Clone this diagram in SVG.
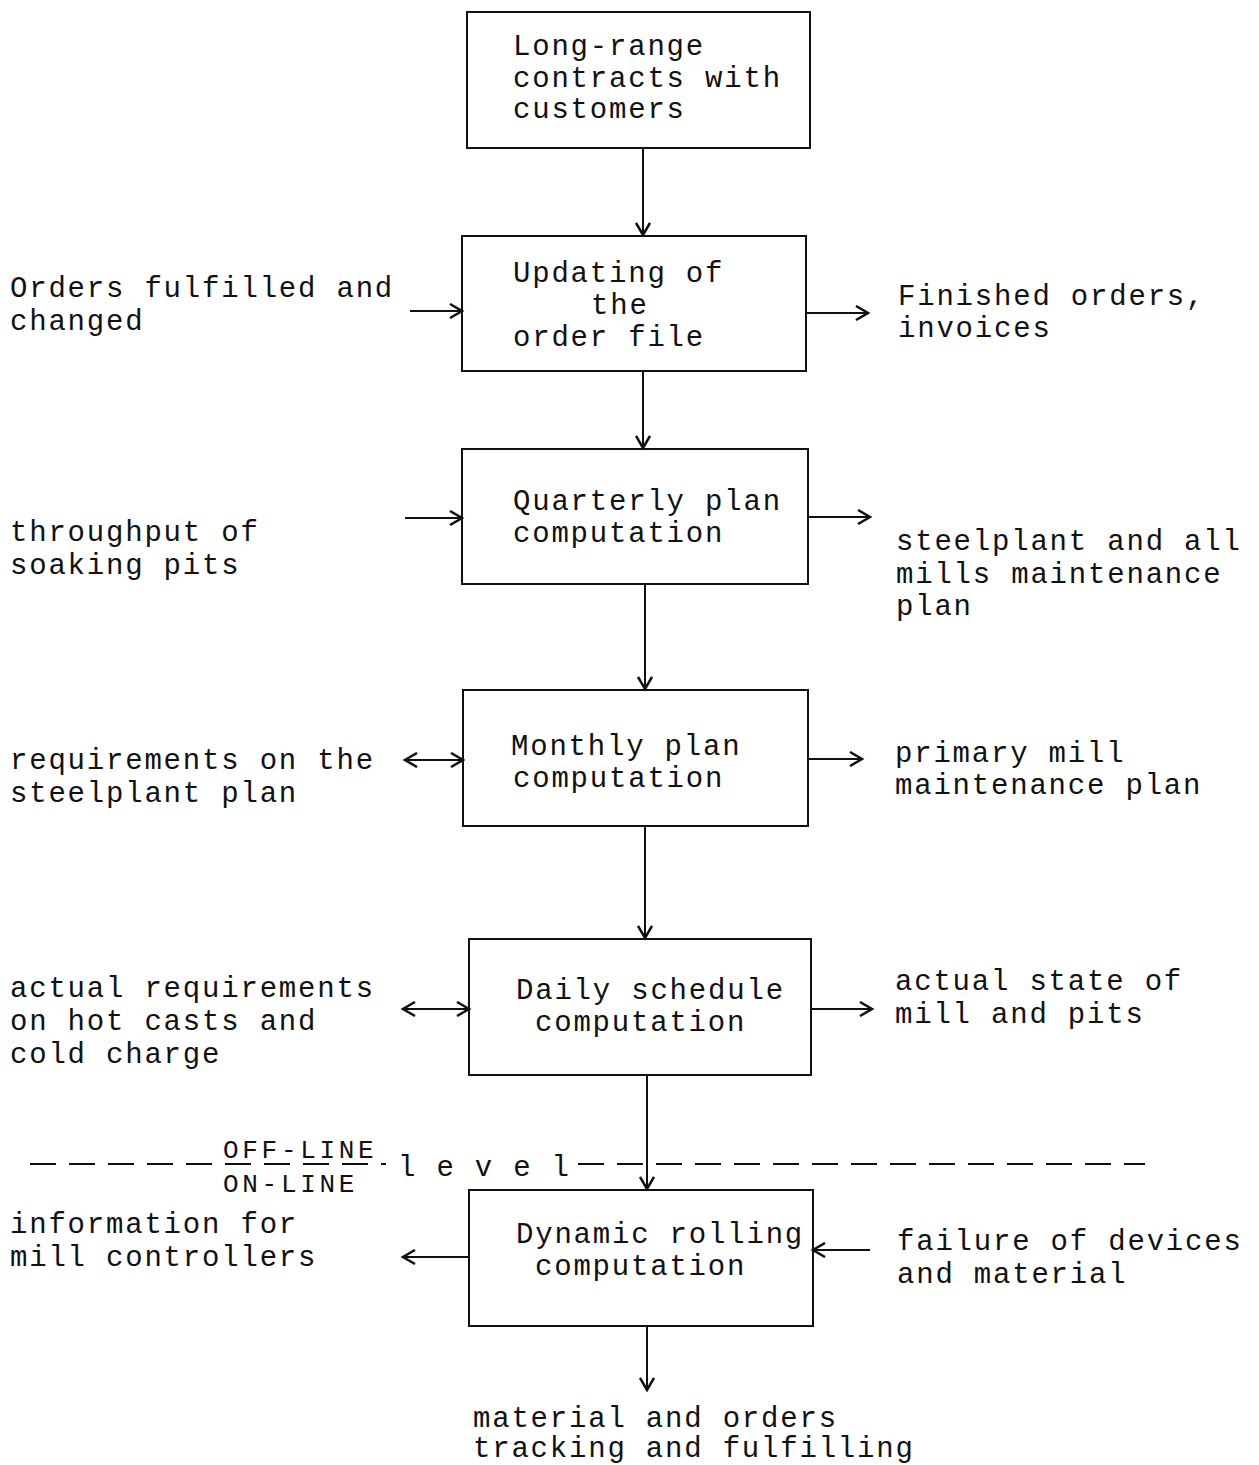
<svg xmlns="http://www.w3.org/2000/svg" width="1259" height="1465" viewBox="0 0 1259 1465">
<style>
text{font-family:"Liberation Mono","DejaVu Sans Mono",monospace;font-size:29px;letter-spacing:1.8px;fill:#111}
.box{fill:none;stroke:#111;stroke-width:2}
.ln{stroke:#111;stroke-width:2;fill:none}
.dash{stroke:#111;stroke-width:2;fill:none;stroke-dasharray:26 13}
.lvl{font-size:26px;letter-spacing:3.7px}
</style>
<defs>
<marker id="ah" markerWidth="16" markerHeight="16" refX="13" refY="8" orient="auto-start-reverse" markerUnits="userSpaceOnUse">
<path d="M1,1 L13,8 L1,15" fill="none" stroke="#111" stroke-width="2.5"/>
</marker>
</defs>
<g id="n1"><rect class="box" x="467" y="12" width="343" height="136"/>
<text x="513" y="55">Long-range</text><text x="513" y="87">contracts with</text><text x="513" y="118">customers</text></g>
<g id="n2"><rect class="box" x="462" y="236" width="344" height="135"/>
<text x="513" y="282">Updating of</text><text x="591" y="314">the</text><text x="513" y="346">order file</text></g>
<g id="n3"><rect class="box" x="462" y="449" width="346" height="135"/>
<text x="513" y="510">Quarterly plan</text><text x="513" y="542">computation</text></g>
<g id="n4"><rect class="box" x="463" y="690" width="345" height="136"/>
<text x="511" y="755">Monthly plan</text><text x="513" y="787">computation</text></g>
<g id="n5"><rect class="box" x="469" y="939" width="342" height="136"/>
<text x="516" y="999">Daily schedule</text><text x="535" y="1031">computation</text></g>
<g id="n6"><rect class="box" x="469" y="1190" width="344" height="136"/>
<text x="516" y="1243">Dynamic rolling</text><text x="535" y="1275">computation</text></g>
<g id="labels">
<text x="10" y="297">Orders fulfilled and</text><text x="10" y="330">changed</text>
<text x="898" y="305">Finished orders,</text><text x="898" y="337">invoices</text>
<text x="10" y="541">throughput of</text><text x="10" y="574">soaking pits</text>
<text x="896" y="550">steelplant and all</text><text x="896" y="583">mills maintenance</text><text x="896" y="615">plan</text>
<text x="10" y="769">requirements on the</text><text x="10" y="802">steelplant plan</text>
<text x="895" y="762">primary mill</text><text x="895" y="794">maintenance plan</text>
<text x="10" y="997">actual requirements</text><text x="10" y="1030">on hot casts and</text><text x="10" y="1063">cold charge</text>
<text x="895" y="990">actual state of</text><text x="895" y="1023">mill and pits</text>
<text x="10" y="1233">information for</text><text x="10" y="1266">mill controllers</text>
<text x="897" y="1250">failure of devices</text><text x="897" y="1283">and material</text>
<text x="473" y="1427">material and orders</text><text x="473" y="1457">tracking and fulfilling</text>
<text class="lvl" x="223" y="1158">OFF-LINE</text>
<text class="lvl" x="223" y="1192">ON-LINE</text>
<text x="398" y="1176">l e v e l</text>
</g>
<g id="connectors">
<line class="dash" x1="30" y1="1164" x2="386" y2="1164"/>
<line class="dash" x1="578" y1="1164" x2="1145" y2="1164"/>
<line class="ln" x1="643" y1="148" x2="643" y2="235" marker-end="url(#ah)"/>
<line class="ln" x1="643" y1="371" x2="643" y2="448" marker-end="url(#ah)"/>
<line class="ln" x1="645" y1="584" x2="645" y2="689" marker-end="url(#ah)"/>
<line class="ln" x1="645" y1="826" x2="645" y2="938" marker-end="url(#ah)"/>
<line class="ln" x1="647" y1="1075" x2="647" y2="1189" marker-end="url(#ah)"/>
<line class="ln" x1="647" y1="1326" x2="647" y2="1390" marker-end="url(#ah)"/>
<line class="ln" x1="410" y1="311" x2="462" y2="311" marker-end="url(#ah)"/>
<line class="ln" x1="806" y1="313" x2="868" y2="313" marker-end="url(#ah)"/>
<line class="ln" x1="405" y1="518" x2="462" y2="518" marker-end="url(#ah)"/>
<line class="ln" x1="808" y1="517" x2="870" y2="517" marker-end="url(#ah)"/>
<line class="ln" x1="405" y1="760" x2="463" y2="760" marker-start="url(#ah)" marker-end="url(#ah)"/>
<line class="ln" x1="808" y1="759" x2="862" y2="759" marker-end="url(#ah)"/>
<line class="ln" x1="403" y1="1009" x2="469" y2="1009" marker-start="url(#ah)" marker-end="url(#ah)"/>
<line class="ln" x1="811" y1="1009" x2="872" y2="1009" marker-end="url(#ah)"/>
<line class="ln" x1="469" y1="1257" x2="403" y2="1257" marker-end="url(#ah)"/>
<line class="ln" x1="870" y1="1250" x2="813" y2="1250" marker-end="url(#ah)"/>
</g>
</svg>
